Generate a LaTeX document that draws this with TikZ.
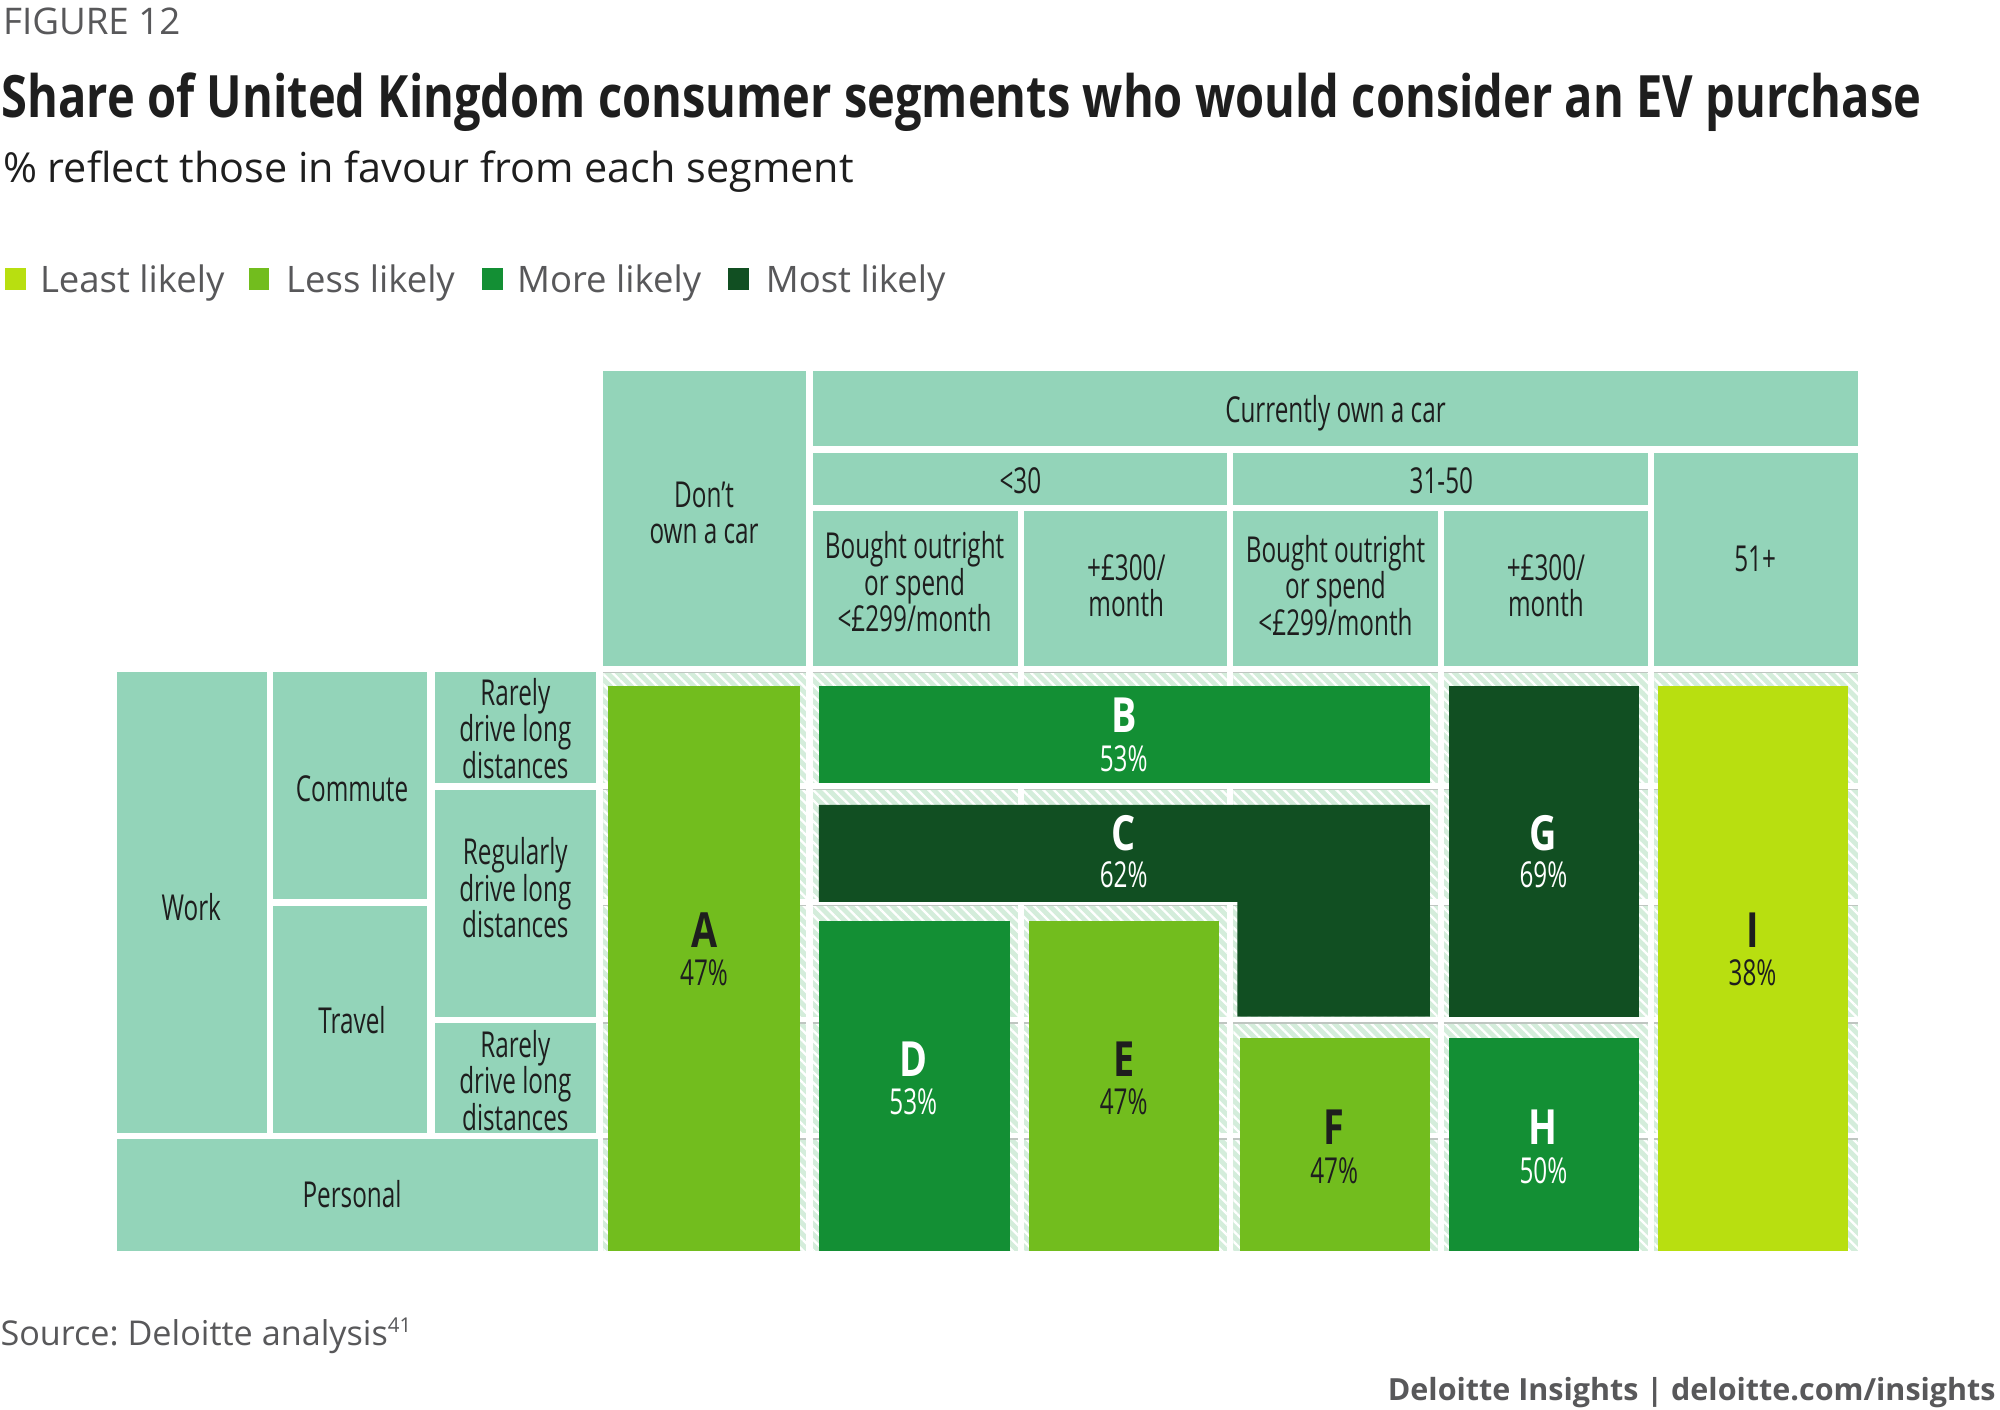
\documentclass[tikz,border=0pt]{standalone}
\usepackage{fontspec}
\setmainfont{Open Sans}
\newfontfamily\condf[FakeStretch=0.68]{Open Sans}
\newfontfamily\condbf[FakeStretch=0.78]{Open Sans}
\newfontfamily\titlef[FakeStretch=0.805]{Open Sans}
\usetikzlibrary{patterns.meta}
\definecolor{mintc}{HTML}{93D4B9}
\definecolor{hatchc}{HTML}{D4EDDB}
\definecolor{stripec}{HTML}{FFFFFF}
\definecolor{leastc}{HTML}{B8DF10}
\definecolor{lessc}{HTML}{72BD1E}
\definecolor{morec}{HTML}{138F34}
\definecolor{mostc}{HTML}{114F22}
\definecolor{inkc}{HTML}{1E1E1E}
\definecolor{grayc}{HTML}{58585A}
\definecolor{linec}{HTML}{BFC6C1}
\frenchspacing
\begin{document}
\begin{tikzpicture}[x=0.5pt,y=-0.5pt,
  mintbox/.style={fill=mintc},
  celltxt/.style={inner sep=0pt,align=center,text=inkc,font=\condf\fontsize{14}{14.25}\selectfont},
  lettxt/.style={inner sep=0pt,font=\condbf\bfseries\fontsize{19}{19}\selectfont},
  pcttxt/.style={inner sep=0pt,font=\condf\fontsize{14}{14}\selectfont},
  legtxt/.style={inner sep=0pt,anchor=base west,text=grayc,font=\fontsize{14.3}{14.3}\selectfont},
  darktxt/.style={text=inkc},
  lighttxt/.style={text=white}]
\useasboundingbox (0,0) rectangle (1568,1105.4);
\fill[white] (0,0) rectangle (1568,1105.4);
% headings
\node[inner sep=0pt,anchor=base west,text=grayc,font=\fontsize{14.4}{14.4}\selectfont] (fig) at (2,27) {FIGURE 12};
\node[inner sep=0pt,anchor=base west,text=inkc,font=\titlef\bfseries\fontsize{22.9}{22.9}\selectfont] (title) at (1,92) {Share of United Kingdom consumer segments who would consider an EV purchase};
\node[inner sep=0pt,anchor=base west,text=inkc,font=\fontsize{16.2}{16.2}\selectfont] (subtitle) at (2,143) {\% reflect those in favour from each segment};
% legend
\fill[leastc] (4,210) rectangle (20,227);
\node[legtxt] (leg1) at (31,229) {Least likely};
\fill[lessc] (195,210) rectangle (211,227);
\node[legtxt] (leg2) at (224,229) {Less likely};
\fill[morec] (378,210) rectangle (394,227);
\node[legtxt] (leg3) at (405,229) {More likely};
\fill[mostc] (571,210) rectangle (587,227);
\node[legtxt] (leg4) at (600,229) {Most likely};
% left header cells
\path[mintbox] (92,527) rectangle (209,888);
\path[mintbox] (214,527) rectangle (335,705);
\path[mintbox] (214,710) rectangle (335,888);
\path[mintbox] (341,527) rectangle (467,614);
\path[mintbox] (341,619) rectangle (467,797);
\path[mintbox] (341,802) rectangle (467,888);
\path[mintbox] (92,893) rectangle (469,981);
% top header cells
\path[mintbox] (473,291) rectangle (632,522);
\path[mintbox] (637,291) rectangle (1457,350);
\path[mintbox] (637,355) rectangle (962,396);
\path[mintbox] (967,355) rectangle (1292,396);
\path[mintbox] (637,401) rectangle (798,522);
\path[mintbox] (803,401) rectangle (962,522);
\path[mintbox] (967,401) rectangle (1127,522);
\path[mintbox] (1132,401) rectangle (1292,522);
\path[mintbox] (1297,355) rectangle (1457,522);
% hatched grid
\foreach \xa/\xb in {473/632,637/798,803/962,967/1127,1132/1292,1297/1457}{
  \foreach \ya/\yb in {527/614,619/705,710/797,802/888,893/981}{
    \fill[hatchc] (\xa,\ya) rectangle (\xb,\yb);
    \fill[pattern={Lines[angle=-45,distance=2.9pt,line width=0.9pt]},pattern color=stripec] (\xa,\ya) rectangle (\xb,\yb);
    \draw[linec,line width=0.5pt] (\xa,\ya) -- (\xb,\ya);
  }}
% blocks
\fill[lessc] (477,538) rectangle (627,981);
\fill[morec] (642,538) rectangle (1121,614);
\fill[mostc] (642,631) -- (1121,631) -- (1121,797) -- (970,797) -- (970,707) -- (642,707) -- cycle;
\fill[morec] (642,722) rectangle (792,981);
\fill[lessc] (807,722) rectangle (956,981);
\fill[lessc] (972,814) rectangle (1121,981);
\fill[mostc] (1136,538) rectangle (1285,797);
\fill[morec] (1136,814) rectangle (1285,981);
\fill[leastc] (1300,538) rectangle (1449,981);
% header texts
\node[celltxt,anchor=base] (work) at (150,722) {Work};
\node[celltxt,anchor=base] (commute) at (276,628) {Commute};
\node[celltxt,anchor=base] (travel) at (276,810) {Travel};
\node[celltxt] (rarely1) at (404,571) {Rarely\\drive long\\distances};
\node[celltxt] (regularly) at (404,696) {Regularly\\drive long\\distances};
\node[celltxt] (rarely2) at (404,847) {Rarely\\drive long\\distances};
\node[celltxt,anchor=base] (personal) at (276,947) {Personal};
\node[celltxt] (dontown) at (552,402) {Don’t\\own a car};
\node[celltxt,anchor=base] (currently) at (1047,331) {Currently own a car};
\node[celltxt,anchor=base] (under30) at (800,387) {<30};
\node[celltxt,anchor=base] (mid) at (1130,387) {31-50};
\node[celltxt] (bought1) at (717,456) {Bought outright\\or spend\\<£299/month};
\node[celltxt] (plus1) at (883,459) {+£300/\\month};
\node[celltxt] (bought2) at (1047,459) {Bought outright\\or spend\\<£299/month};
\node[celltxt] (plus2) at (1212,459) {+£300/\\month};
\node[celltxt,anchor=base] (over51) at (1376,448) {51+};
% block labels
\node[lettxt,darktxt] (la) at (552,729) {A};
\node[pcttxt,darktxt] (pa) at (552,763) {47\%};
\node[lettxt,lighttxt] (lb) at (881,561) {B};
\node[pcttxt,lighttxt] (pb) at (881,595) {53\%};
\node[lettxt,lighttxt] (lc) at (881,653) {C};
\node[pcttxt,lighttxt] (pc) at (881,686) {62\%};
\node[lettxt,lighttxt] (ld) at (716,830) {D};
\node[pcttxt,lighttxt] (pd) at (716,864) {53\%};
\node[lettxt,darktxt] (le) at (881,830) {E};
\node[pcttxt,darktxt] (pe) at (881,864) {47\%};
\node[lettxt,darktxt] (lf) at (1046,884) {F};
\node[pcttxt,darktxt] (pf) at (1046,918) {47\%};
\node[lettxt,lighttxt] (lg) at (1210,653) {G};
\node[pcttxt,lighttxt] (pg) at (1210,686) {69\%};
\node[lettxt,lighttxt] (lh) at (1210,884) {H};
\node[pcttxt,lighttxt] (ph) at (1210,918) {50\%};
\node[lettxt,darktxt] (li) at (1374,729) {I};
\node[pcttxt,darktxt] (pi) at (1374,763) {38\%};
% footer
\node[inner sep=0pt,anchor=base west,text=grayc,font=\fontsize{13.4}{13.4}\selectfont] (source) at (0,1055) {Source: Deloitte analysis\textsuperscript{\fontsize{8}{8}\selectfont 41}};
\node[inner sep=0pt,anchor=base east,text=grayc,font=\bfseries\fontsize{11.95}{11.95}\selectfont] (credit) at (1565,1098) {Deloitte Insights | deloitte.com/insights};
\end{tikzpicture}
\end{document}
